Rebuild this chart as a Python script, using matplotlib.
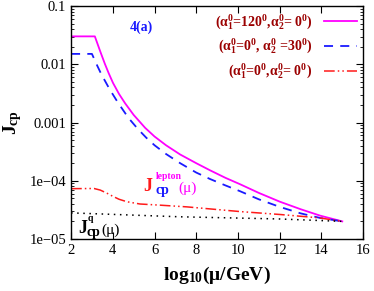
import numpy as np
from matplotlib import pyplot as plt

plt.rcParams['font.family'] = ['Liberation Serif', 'DejaVu Serif']
plt.rcParams['mathtext.fontset'] = 'custom'
plt.rcParams['mathtext.rm'] = 'Liberation Serif'
plt.rcParams['mathtext.it'] = 'Liberation Serif:italic'
plt.rcParams['mathtext.bf'] = 'Liberation Serif:bold'

# alpha1=120, alpha2=0 (magenta, solid)
x_a = [2, 3.14, 3.4, 3.62, 3.8, 4.01, 4.3, 4.59, 5.0, 5.55, 6.0, 6.55, 7.23, 8.0,
       8.66, 9.4, 10.1, 11.0, 12.0, 13.0, 13.94, 15]
j_a = [0.0302, 0.0302, 0.0166, 0.0102, 0.00708, 0.00479, 0.00309, 0.00214,
       0.00135, 8.1e-4, 5.75e-4, 4.07e-4, 2.82e-4, 2.0e-4, 1.51e-4, 1.12e-4,
       8.7e-5, 6.17e-5, 4.37e-5, 3.24e-5, 2.51e-5, 2.0e-5]

# alpha1=0, alpha2=30 (blue, dashed)
x_b = [2, 3.0, 3.25, 3.45, 3.85, 4.25, 4.75, 5.2, 5.6, 6.0, 6.55, 7.23, 8.0, 8.66,
       9.4, 10.1, 11.0, 12.0, 13.0, 13.94, 15]
j_b = [0.0151, 0.0151, 0.00955, 0.00676, 0.00372, 0.00219, 0.0012, 7.76e-4,
       5.5e-4, 4.07e-4, 2.88e-4, 2.0e-4, 1.38e-4, 1.07e-4, 8.3e-5, 6.6e-5,
       4.79e-5, 3.55e-5, 2.75e-5, 2.29e-5, 2.0e-5]

# alpha1=0, alpha2=0 (red, dash-dot-dot)
x_c = [2, 3.1, 3.4, 3.7, 4.0, 4.3, 4.68, 5.3, 6.27, 7.56, 10.1, 12.0, 13.9, 15]
j_c = [7.3e-5, 7.35e-5, 6.9e-5, 6.15e-5, 5.4e-5, 4.8e-5, 4.35e-5, 3.98e-5,
       3.8e-5, 3.55e-5, 2.95e-5, 2.63e-5, 2.3e-5, 2.0e-5]

# quark sector (black, dotted)
x_q = [2, 7.2, 12, 15]
j_q = [2.8e-5, 2.4e-5, 2.2e-5, 2.0e-5]

labels = [r'($\mathbf{\alpha^0_1}$=120$^\mathbf{0}$,$\mathbf{\alpha^0_2}$= 0$^\mathbf{0}$)',
          r'($\mathbf{\alpha^0_1}$=0$^\mathbf{0}$, $\mathbf{\alpha^0_2}$ =30$^\mathbf{0}$)',
          r'($\mathbf{\alpha^0_1}$=0$^\mathbf{0}$,$\mathbf{\alpha^0_2}$= 0$^\mathbf{0}$)']

fig = plt.figure(figsize=(3.74, 2.91), dpi=100)
ax = fig.add_axes([0.19, 0.179, 0.781, 0.8])

ax.plot(x_a, j_a, color='#ff00ff', lw=1.3, label=labels[0])
ax.plot(x_b, j_b, color='#1a1aff', lw=1.3, ls=(0, (5, 4)), label=labels[1])
ax.plot(x_c, j_c, color='#ff1a1a', lw=1.1, ls=(0, (7, 2, 1, 2, 1, 2)), label=labels[2])
ax.plot(x_q, j_q, color='black', lw=1.1, ls=(0, (1, 3)))

ax.set_yscale('log')
ax.set_xlim(2, 16)
ax.set_ylim(1e-5, 0.1)
ax.set_xticks(range(2, 17, 2))
ax.set_yticks([1e-5, 1e-4, 1e-3, 1e-2, 1e-1], ['1e\u221205', '1e\u221204', '0.001', '0.01', '0.1'])
ax.tick_params(which='both', direction='in', top=True, right=True, labelsize=10.5)
ax.tick_params(which='major', length=5)
ax.tick_params(which='minor', length=2.5)
ax.tick_params(axis='x', which='minor', bottom=False, top=False)
for s in ax.spines.values():
    s.set_linewidth(1.0)

ax.set_xlabel(r'$\mathbf{log_{10}}$($\mathbf{\mu}$/GeV)', fontsize=14, fontweight='bold', labelpad=6)
ax.set_ylabel(r'$\mathbf{J_{cp}}$', fontsize=14, labelpad=4)

leg = ax.legend(loc='upper right', frameon=False, markerfirst=False, fontsize=10,
                handlelength=2.4, labelspacing=0.4, borderaxespad=0.05, handletextpad=0.8)
for t in leg.get_texts():
    t.set_color('#9b0000')
    t.set_fontweight('bold')
    t.set_ha('right')

ax.text(5.36, 10 ** -1.36, '4(a)', color='#1a1aff', fontsize=10, fontweight='bold',
        ha='center', va='center')

# J_cp^lepton(mu)
ax.text(5.45, 10 ** -4.17, 'J', color='#ff1a1a', fontsize=13, fontweight='bold', va='baseline')
ax.text(6.07, 10 ** -4.22, 'cp', color='#1a1aff', fontsize=10, fontweight='bold', va='baseline')
ax.text(6.07, 10 ** -3.97, 'lepton', color='#ff00ff', fontsize=7, fontweight='bold', va='baseline')
ax.text(7.13, 10 ** -4.19, '(\u03bc)', color='#ff00ff', fontsize=11, va='baseline')

# J_cp^q(mu)
ax.text(2.34, 10 ** -4.9, 'J', color='black', fontsize=13, fontweight='bold', va='baseline')
ax.text(2.72, 10 ** -4.95, 'cp', color='black', fontsize=10, fontweight='bold', va='baseline')
ax.text(2.77, 10 ** -4.69, 'q', color='black', fontsize=7, fontweight='bold', va='baseline')
ax.text(3.44, 10 ** -4.92, '(\u03bc)', color='black', fontsize=11, va='baseline')

fig.savefig('out.png', dpi=100)
